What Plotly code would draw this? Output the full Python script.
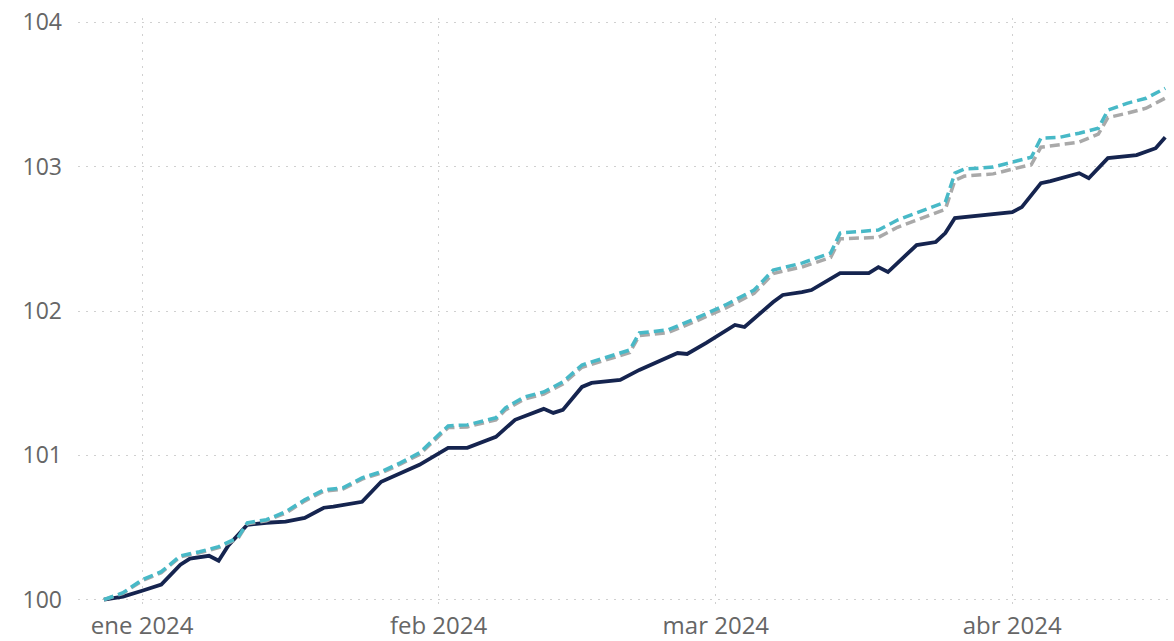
import plotly.graph_objects as go

# Solid dark series
dark_dates = ["2023-12-28", "2023-12-30", "2024-01-01", "2024-01-03", "2024-01-05", "2024-01-06",
              "2024-01-08", "2024-01-09", "2024-01-10", "2024-01-12", "2024-01-14", "2024-01-16",
              "2024-01-18", "2024-01-20", "2024-01-21", "2024-01-24", "2024-01-26", "2024-01-28",
              "2024-01-30", "2024-02-02", "2024-02-04", "2024-02-07", "2024-02-09", "2024-02-12",
              "2024-02-13", "2024-02-14", "2024-02-16", "2024-02-17", "2024-02-20", "2024-02-22",
              "2024-02-26", "2024-02-27", "2024-02-29", "2024-03-03", "2024-03-04", "2024-03-07",
              "2024-03-08", "2024-03-10", "2024-03-11", "2024-03-14", "2024-03-17", "2024-03-18",
              "2024-03-19", "2024-03-22", "2024-03-24", "2024-03-25", "2024-03-26", "2024-04-01",
              "2024-04-02", "2024-04-04", "2024-04-05", "2024-04-08", "2024-04-09", "2024-04-11",
              "2024-04-14", "2024-04-16", "2024-04-17"]
dark_values = [100.000, 100.021, 100.062, 100.104, 100.242, 100.284,
               100.304, 100.270, 100.374, 100.519, 100.533, 100.540,
               100.567, 100.637, 100.644, 100.678, 100.817, 100.879,
               100.934, 101.052, 101.052, 101.128, 101.246, 101.322,
               101.294, 101.315, 101.474, 101.502, 101.522, 101.592,
               101.709, 101.702, 101.779, 101.903, 101.889, 102.062,
               102.111, 102.131, 102.145, 102.263, 102.263, 102.304,
               102.270, 102.457, 102.478, 102.540, 102.644, 102.685,
               102.720, 102.886, 102.900, 102.955, 102.920, 103.059,
               103.080, 103.128, 103.204]

# Dashed series (cyan and gray share dates)
dash_dates = ["2023-12-28", "2023-12-30", "2024-01-01", "2024-01-03", "2024-01-05", "2024-01-07",
              "2024-01-09", "2024-01-11", "2024-01-12", "2024-01-14", "2024-01-16", "2024-01-18",
              "2024-01-20", "2024-01-22", "2024-01-24", "2024-01-26", "2024-01-28", "2024-01-30",
              "2024-02-02", "2024-02-04", "2024-02-07", "2024-02-08", "2024-02-10", "2024-02-12",
              "2024-02-14", "2024-02-16", "2024-02-17", "2024-02-21", "2024-02-22", "2024-02-25",
              "2024-02-28", "2024-03-02", "2024-03-05", "2024-03-07", "2024-03-10", "2024-03-11",
              "2024-03-13", "2024-03-14", "2024-03-18", "2024-03-20", "2024-03-22", "2024-03-25",
              "2024-03-26", "2024-03-27", "2024-03-30", "2024-04-02", "2024-04-03", "2024-04-04",
              "2024-04-06", "2024-04-08", "2024-04-10", "2024-04-11", "2024-04-13", "2024-04-15",
              "2024-04-17"]
cyan_values = [100.000, 100.048, 100.138, 100.194, 100.304, 100.332,
               100.367, 100.429, 100.533, 100.554, 100.609, 100.692,
               100.761, 100.775, 100.844, 100.886, 100.948, 101.017,
               101.204, 101.211, 101.260, 101.329, 101.405, 101.439,
               101.509, 101.626, 101.647, 101.730, 101.848, 101.869,
               101.952, 102.042, 102.145, 102.284, 102.332, 102.353,
               102.401, 102.540, 102.561, 102.630, 102.678, 102.754,
               102.955, 102.983, 102.997, 103.045, 103.066, 103.197,
               103.204, 103.232, 103.266, 103.391, 103.439, 103.474,
               103.543]
gray_values = [100.000, 100.044, 100.131, 100.187, 100.297, 100.325,
               100.360, 100.422, 100.526, 100.547, 100.600, 100.683,
               100.752, 100.766, 100.835, 100.877, 100.938, 101.006,
               101.192, 101.197, 101.246, 101.315, 101.391, 101.425,
               101.494, 101.610, 101.630, 101.712, 101.830, 101.850,
               101.932, 102.020, 102.122, 102.260, 102.305, 102.325,
               102.370, 102.500, 102.510, 102.580, 102.628, 102.705,
               102.905, 102.935, 102.950, 102.995, 103.015, 103.135,
               103.150, 103.170, 103.225, 103.340, 103.370, 103.405,
               103.475]

y_ticks = [100, 101, 102, 103, 104]
x_ticks = ["2024-01-01", "2024-02-01", "2024-03-01", "2024-04-01"]
x_tick_labels = ["ene 2024", "feb 2024", "mar 2024", "abr 2024"]

fig = go.Figure()
fig.add_trace(go.Scatter(x=dark_dates, y=dark_values, mode="lines",
                         line=dict(color="#15244f", width=3.8), name="Serie 1"))
fig.add_trace(go.Scatter(x=dash_dates, y=gray_values, mode="lines",
                         line=dict(color="#a9a9a9", width=3.5, dash="10px,5px"), name="Serie 3"))
fig.add_trace(go.Scatter(x=dash_dates, y=cyan_values, mode="lines",
                         line=dict(color="#48b9c7", width=3.5, dash="10px,5px"), name="Serie 2"))

fig.update_layout(
    width=1174, height=641,
    margin=dict(l=78, r=0, t=18, b=37),
    paper_bgcolor="white", plot_bgcolor="white",
    showlegend=False,
    font=dict(family="Open Sans, Noto Sans, sans-serif", size=22, color="#666666"),
)
fig.update_xaxes(
    type="date",
    range=["2023-12-25 07:00", "2024-04-17 22:00"],
    tickvals=x_ticks, ticktext=x_tick_labels,
    tickfont=dict(size=24),
    showgrid=True, gridcolor="#d0d0d0", griddash="2px,6px", gridwidth=1.2,
    showline=False, zeroline=False, ticks="",
    ticklabelstandoff=5,
    automargin=False,
)
fig.update_yaxes(
    range=[99.97, 104.03],
    tickvals=y_ticks, ticktext=[str(v) for v in y_ticks],
    tickfont=dict(size=23),
    showgrid=True, gridcolor="#d0d0d0", griddash="2px,6px", gridwidth=1.2,
    showline=False, zeroline=False, ticks="",
    ticklabelstandoff=15,
    automargin=False,
)

fig.write_html("out.html",
               config={"displayModeBar": False},
               post_script="document.body.style.margin='0';document.body.style.padding='0';")
